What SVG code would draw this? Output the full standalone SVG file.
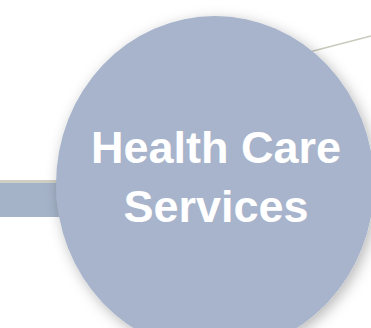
<svg xmlns="http://www.w3.org/2000/svg" width="371" height="328" viewBox="0 0 371 328">
  <defs>
    <filter id="shadow" x="-20%" y="-20%" width="140%" height="140%">
      <feDropShadow dx="3" dy="4" stdDeviation="7" flood-color="#000" flood-opacity="0.28"/>
    </filter>
    <style>
      .conn { fill: none; stroke: #c9c9bd; stroke-width: 1.5; }
      .bar { fill: #a5b3c8; }
      .barTop { fill: #cfcfc3; }
      .node { fill: #a7b4cb; filter: url(#shadow); }
      .label { fill: #ffffff; font-family: "Liberation Sans", Arial, sans-serif; font-weight: bold; font-size: 45px; text-anchor: middle; }
    </style>
  </defs>
  <rect width="371" height="328" fill="#ffffff"/>
  <g id="connectors">
    <line class="conn" x1="290" y1="57" x2="371" y2="36"/>
    <rect class="barTop" x="0" y="180" width="80" height="3"/>
    <rect class="bar" x="0" y="183" width="80" height="34"/>
  </g>
  <g id="node-health-care-services">
    <ellipse class="node" cx="215" cy="184" rx="159" ry="168"/>
    <text class="label" x="216" y="163">Health Care</text>
    <text class="label" x="216" y="222">Services</text>
  </g>
</svg>
